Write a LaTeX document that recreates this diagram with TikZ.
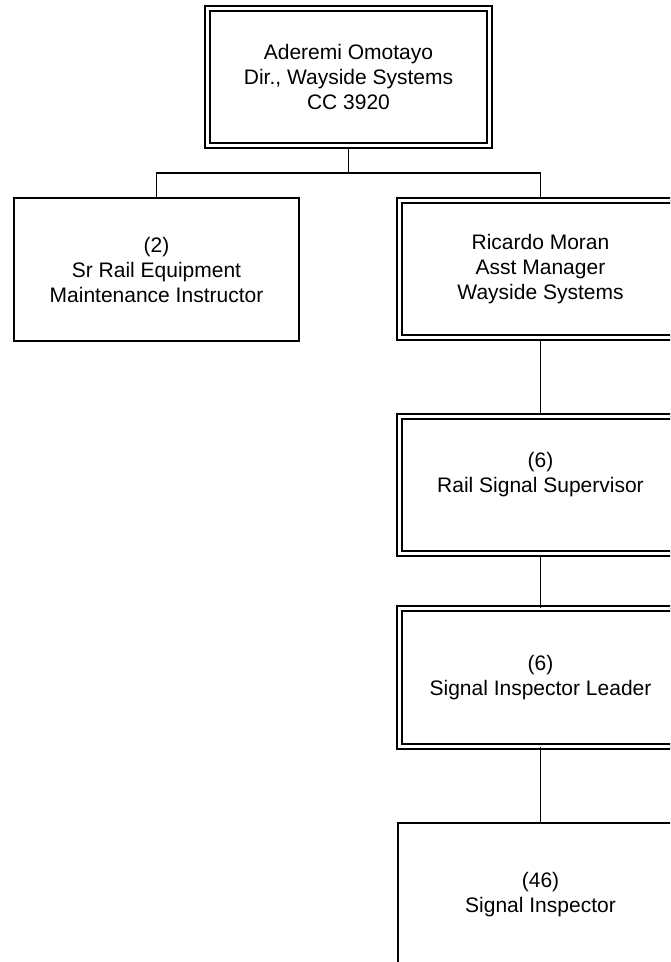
\documentclass[tikz,border=0pt]{standalone}
\usepackage{fontspec}
\setmainfont{Liberation Sans}
\usetikzlibrary{positioning}
\tikzset{
  every node/.style={font=\fontsize{21}{25}\selectfont},
  box/.style={draw, align=center, line width=1.6pt, fill=white},
  manager/.style={box, double, double distance=3.4pt,
                  minimum width=282.5pt, minimum height=137.5pt},
  staff/.style={box, minimum width=285.5pt, minimum height=143.5pt},
  link/.style={line width=1.6pt},
}

\begin{document}
\begin{tikzpicture}[x=1pt, y=-1pt]

\clip (0,0) rectangle (670,962);

% ---------------------------------------------------------------- the director
\node[manager] (dir) at (348.5,77)
  {Aderemi Omotayo\\Dir., Wayside Systems\\CC 3920};

% ------------------------------------------------------- the two reports
\node[staff] (instr) at (156.5,269.5)
  {(2)\\Sr Rail Equipment\\Maintenance Instructor};
\node[manager] (asst) at (540.5,269)
  {Ricardo Moran\\Asst Manager\\Wayside Systems};

% ------------------------------------------------------- the signal line
\node[manager] (super) at (540.5,485) {(6)\\Rail Signal Supervisor\\~};
\node[manager] (lead) at (540.5,677.5) {(6)\\Signal Inspector Leader};
\node[staff] (insp) at (540.5,894.5) {(46)\\Signal Inspector};

% ------------------------------------------------------------ the links
\coordinate (split) at (348.5,173);
\draw[link] (dir.south) -- (split);
\draw[link] (split) -| (instr.north);
\draw[link] (split) -| (asst.north);
\draw[link] (asst.south) -- (super.north);
\draw[link] (super.south) -- (lead.north);
\draw[link] (lead.south) -- (insp.north);

\end{tikzpicture}
\end{document}
